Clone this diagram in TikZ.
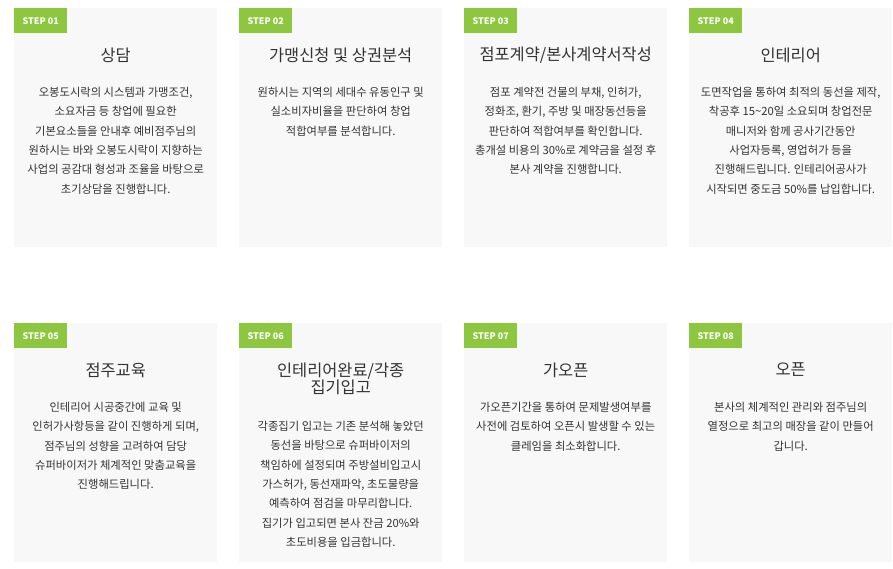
\documentclass[tikz,border=0pt]{standalone}
\usepackage{fontspec}
\setmainfont{Noto Sans CJK KR}
\usetikzlibrary{calc}
\definecolor{cardbg}{HTML}{F8F8F8}
\definecolor{stepgreen}{HTML}{8DC63F}
\definecolor{txt}{HTML}{333333}
\tikzset{
  card/.style={fill=cardbg, draw=none, anchor=north west, minimum width=203pt, minimum height=239pt, inner sep=0pt},
  badge/.style={fill=stepgreen, text=white, anchor=north west, minimum width=53pt, minimum height=25pt, inner sep=0pt, font=\fontsize{9}{9}\selectfont\bfseries},
  ttl/.style={text=txt, inner sep=0pt, align=center, font=\fontsize{16.4}{17}\selectfont},
  bodytext/.style={text=txt, inner sep=0pt, anchor=north, align=center, font=\fontsize{11.3}{19.3}\selectfont}
}
\begin{document}
\begin{tikzpicture}[x=1pt,y=-1pt]
\useasboundingbox (0,0) rectangle (893,569);
% row 1
\node[card] (c1) at (14,8) {};
\node[card] (c2) at (239,8) {};
\node[card] (c3) at (464,8) {};
\node[card] (c4) at (689,8) {};
% row 2
\node[card] (c5) at (14,323) {};
\node[card] (c6) at (239,323) {};
\node[card] (c7) at (464,323) {};
\node[card] (c8) at (689,323) {};
% badges
\foreach \i in {1,...,8}{
  \node[badge] (b\i) at (c\i.north west) {STEP 0\i};
}
% titles
\node[ttl] (t1) at ($(c1.north)+(0,47)$) {상담};
\node[ttl] (t2) at ($(c2.north)+(0,47)$) {가맹신청 및 상권분석};
\node[ttl] (t3) at ($(c3.north)+(0,47)$) {점포계약/본사계약서작성};
\node[ttl] (t4) at ($(c4.north)+(0,47)$) {인테리어};
\node[ttl] (t5) at ($(c5.north)+(0,47)$) {점주교육};
\node[ttl] (t6) at ($(c6.north)+(0,55.5)$) {인테리어완료/각종\\집기입고};
\node[ttl] (t7) at ($(c7.north)+(0,47)$) {가오픈};
\node[ttl] (t8) at ($(c8.north)+(0,47)$) {오픈};
% bodies
\node[bodytext] (d1) at ($(c1.north)+(0,79)$) {오봉도시락의 시스템과 가맹조건,\\소요자금 등 창업에 필요한\\기본요소들을 안내후 예비점주님의\\원하시는 바와 오봉도시락이 지향하는\\사업의 공감대 형성과 조율을 바탕으로\\초기상담을 진행합니다.};
\node[bodytext] (d2) at ($(c2.north)+(0,79)$) {원하시는 지역의 세대수 유동인구 및\\실소비자비율을 판단하여 창업\\적합여부를 분석합니다.};
\node[bodytext] (d3) at ($(c3.north)+(0,79)$) {점포 계약전 건물의 부채, 인허가,\\정화조, 환기, 주방 및 매장동선등을\\판단하여 적합여부를 확인합니다.\\총개설 비용의 30\%로 계약금을 설정 후\\본사 계약을 진행합니다.};
\node[bodytext] (d4) at ($(c4.north)+(0,79)$) {도면작업을 통하여 최적의 동선을 제작,\\착공후 15\textasciitilde20일 소요되며 창업전문\\매니저와 함께 공사기간동안\\사업자등록, 영업허가 등을\\진행해드립니다. 인테리어공사가\\시작되면 중도금 50\%를 납입합니다.};
\node[bodytext] (d5) at ($(c5.north)+(0,79)$) {인테리어 시공중간에 교육 및\\인허가사항등을 같이 진행하게 되며,\\점주님의 성향을 고려하여 담당\\슈퍼바이저가 체계적인 맞춤교육을\\진행해드립니다.};
\node[bodytext] (d6) at ($(c6.north)+(0,98)$) {각종집기 입고는 기존 분석해 놓았던\\동선을 바탕으로 슈퍼바이저의\\책임하에 설정되며 주방설비입고시\\가스허가, 동선재파악, 초도물량을\\예측하여 점검을 마무리합니다.\\집기가 입고되면 본사 잔금 20\%와\\초도비용을 입금합니다.};
\node[bodytext] (d7) at ($(c7.north)+(0,79)$) {가오픈기간을 통하여 문제발생여부를\\사전에 검토하여 오픈시 발생할 수 있는\\클레임을 최소화합니다.};
\node[bodytext] (d8) at ($(c8.north)+(0,79)$) {본사의 체계적인 관리와 점주님의\\열정으로 최고의 매장을 같이 만들어\\갑니다.};
\end{tikzpicture}
\end{document}
